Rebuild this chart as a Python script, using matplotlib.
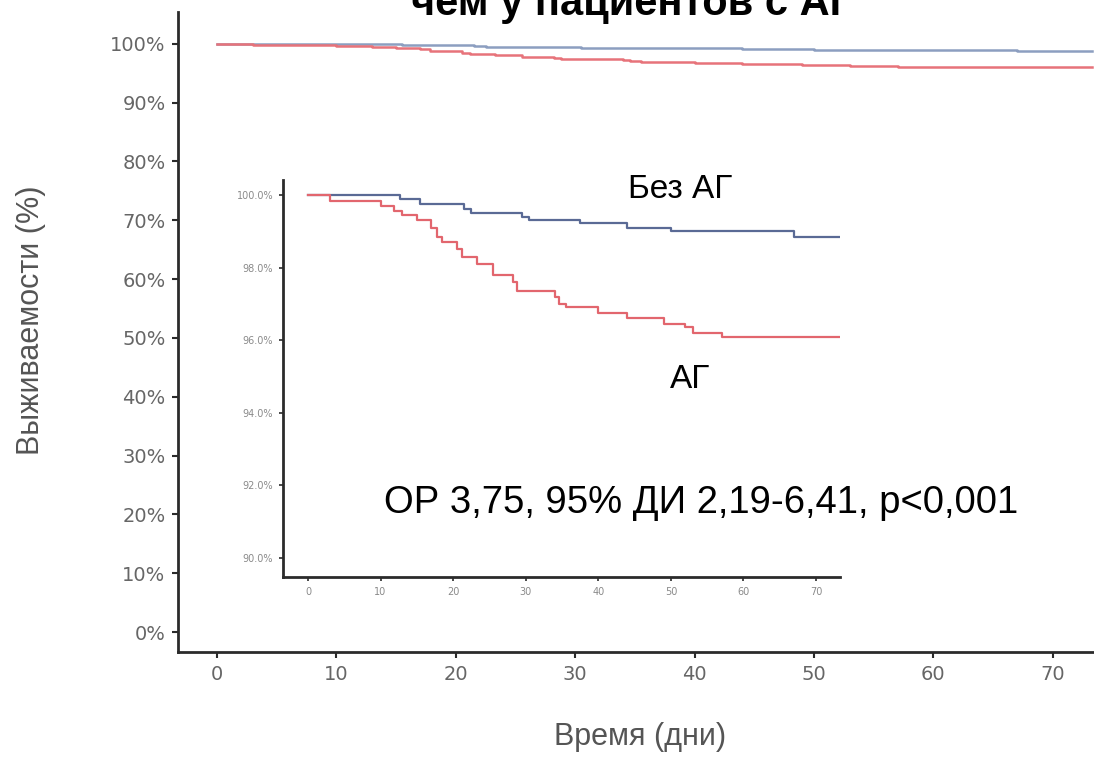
import matplotlib
matplotlib.use("Agg")
import matplotlib.pyplot as plt
from matplotlib.ticker import FuncFormatter

# ---- data ----
days_no_ag = [0, 12.7, 15.5, 21.5, 22.5, 29.5, 30.5, 37.5, 44.0, 50.0, 67.0, 73.3]
surv_no_ag = [100, 99.88, 99.75, 99.62, 99.5, 99.4, 99.3, 99.22, 99.1, 99.0, 98.85, 98.85]

days_ag = [0, 3.0, 10.0, 11.8, 13.0, 15.0, 17.0, 17.8, 18.5, 20.5, 21.2, 23.3,
           25.5, 28.2, 28.8, 34.0, 34.6, 35.5, 40.0, 44.0, 49.0, 52.0, 53.0, 57.0, 73.3]
surv_ag = [100, 99.83, 99.7, 99.55, 99.45, 99.3, 99.1, 98.85, 98.7, 98.5, 98.3, 98.1,
           97.8, 97.6, 97.35, 97.2, 97.0, 96.9, 96.75, 96.6, 96.45, 96.35, 96.2, 96.1, 96.1]

main_xticks = [0, 10, 20, 30, 40, 50, 60, 70]
main_yticks = [0, 10, 20, 30, 40, 50, 60, 70, 80, 90, 100]
inset_xticks = [0, 10, 20, 30, 40, 50, 60, 70]
inset_yticks = [90, 92, 94, 96, 98, 100]

title_text = "чем у пациентов с АГ"
xlabel_text = "Время (дни)"
ylabel_text = "Выживаемости (%)"
label_no_ag = "Без АГ"
label_ag = "АГ"
stats_text = "ОР 3,75, 95% ДИ 2,19-6,41, p<0,001"

fam = ['Liberation Sans', 'DejaVu Sans']

red_main = '#e7737a'
blue_main = '#8c9ec0'
red_in = '#e2666e'
blue_in = '#5a6a95'
spine_c = '#2b2b2b'
tick_c = '#666666'

W, H = 1094, 758
fig = plt.figure(figsize=(W / 100, H / 100), dpi=100)

def box(l, t, r, b):
    return [l / W, 1 - b / H, (r - l) / W, (b - t) / H]

# ---- main axes ----
ax = fig.add_axes(box(178, 12, 1094, 652))
ax.step(days_no_ag, surv_no_ag, where='post', color=blue_main, lw=1.8)
ax.step(days_ag, surv_ag, where='post', color=red_main, lw=1.8)
ax.set_xlim(-3.27, 73.45)
ax.set_ylim(-3.4, 105.4)
ax.set_xticks(main_xticks)
ax.set_yticks(main_yticks)
ax.yaxis.set_major_formatter(FuncFormatter(lambda v, p: f"{v:.0f}%"))
for s in ['top', 'right']:
    ax.spines[s].set_visible(False)
for s in ['left', 'bottom']:
    ax.spines[s].set_color(spine_c)
    ax.spines[s].set_linewidth(2.0)
ax.tick_params(axis='both', direction='out', length=4, width=1.5, color=spine_c,
               labelcolor=tick_c, labelsize=14, pad=5)
ax.set_xlabel(xlabel_text, family=fam, fontsize=22, color='#555555')
ax.set_ylabel(ylabel_text, family=fam, fontsize=22, color='#555555')
ax.xaxis.set_label_coords((640 - 178) / (W - 178), -(722 - 652) / (652 - 12))
ax.yaxis.set_label_coords(-(178 - 46) / (W - 178), (652 - 320) / (652 - 12))

# ---- inset axes ----
axi = fig.add_axes(box(283, 180, 840, 577))
axi.step(days_no_ag, surv_no_ag, where='post', color=blue_in, lw=1.6)
axi.step(days_ag, surv_ag, where='post', color=red_in, lw=1.6)
axi.set_xlim(-3.44, 73.3)
axi.set_ylim(89.48, 100.41)
axi.set_xticks(inset_xticks)
axi.set_yticks(inset_yticks)
axi.yaxis.set_major_formatter(FuncFormatter(lambda v, p: f"{v:.1f}%"))
for s in ['top', 'right']:
    axi.spines[s].set_visible(False)
for s in ['left', 'bottom']:
    axi.spines[s].set_color(spine_c)
    axi.spines[s].set_linewidth(2.0)
axi.tick_params(axis='both', direction='out', length=3, width=1.2, color=spine_c,
                labelcolor='#8a8a8a', labelsize=7, pad=4)

# ---- annotations ----
fig.text(680 / W, 1 - 190 / H, label_no_ag, family=fam, fontsize=24,
         ha='center', va='center', color='black')
fig.text(690 / W, 1 - 380 / H, label_ag, family=fam, fontsize=24,
         ha='center', va='center', color='black')
fig.text(701 / W, 1 - 503 / H, stats_text, family=fam, fontsize=27.5,
         ha='center', va='center', color='black')
fig.text(632 / W, 1 - 15 / H, title_text, family=fam, fontsize=30,
         fontweight='bold', ha='center', va='baseline', color='black')

fig.savefig("out.png", dpi=100)
